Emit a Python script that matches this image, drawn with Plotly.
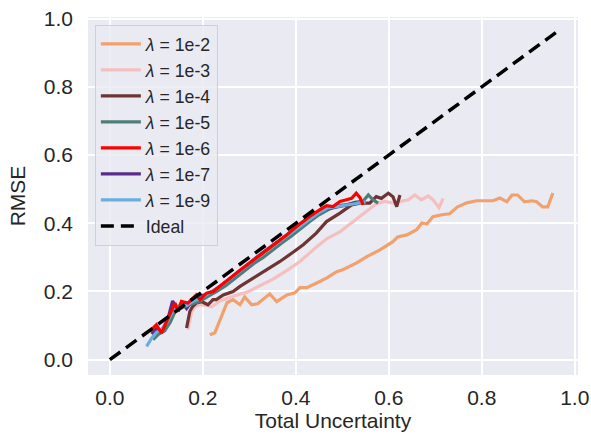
import plotly.graph_objects as go

labels = ["1e-2", "1e-3", "1e-4", "1e-5", "1e-6", "1e-7", "1e-9"]
colors = ["#F2A06C", "#F6BFBF", "#6E3434", "#4F7E78", "#FF0000", "#5A2D8A", "#6AAEDD"]

x_1e2 = [0.215,0.226,0.252,0.265,0.280,0.290,0.305,0.318,0.344,0.359,0.381,0.398,0.409,0.424,0.445,0.467,0.488,0.501,0.531,0.553,0.581,0.609,0.619,0.639,0.660,0.671,0.682,0.695,0.714,0.731,0.748,0.768,0.789,0.811,0.824,0.839,0.854,0.865,0.877,0.892,0.908,0.918,0.931,0.942,0.953]
y_1e2 = [0.073,0.079,0.167,0.176,0.161,0.184,0.161,0.164,0.193,0.170,0.190,0.196,0.211,0.211,0.225,0.240,0.258,0.264,0.284,0.302,0.322,0.346,0.360,0.366,0.381,0.401,0.398,0.419,0.425,0.428,0.448,0.460,0.466,0.466,0.466,0.474,0.463,0.483,0.483,0.463,0.466,0.463,0.448,0.448,0.489]

x_1e3 = [0.168,0.176,0.183,0.194,0.210,0.219,0.237,0.265,0.295,0.323,0.351,0.381,0.409,0.444,0.467,0.495,0.523,0.552,0.573,0.591,0.610,0.624,0.642,0.656,0.670,0.685,0.695,0.708,0.717]
y_1e3 = [0.088,0.141,0.155,0.161,0.158,0.155,0.172,0.186,0.198,0.216,0.236,0.262,0.288,0.330,0.355,0.375,0.405,0.437,0.457,0.464,0.459,0.464,0.469,0.483,0.469,0.480,0.469,0.446,0.473]

x_1e4 = [0.165,0.172,0.178,0.186,0.198,0.211,0.222,0.229,0.244,0.265,0.280,0.308,0.337,0.366,0.394,0.416,0.444,0.466,0.495,0.520,0.538,0.559,0.573,0.584,0.599,0.609,0.617,0.624]
y_1e4 = [0.093,0.141,0.156,0.166,0.170,0.161,0.176,0.176,0.190,0.200,0.215,0.239,0.264,0.288,0.315,0.337,0.371,0.405,0.430,0.454,0.459,0.459,0.478,0.473,0.488,0.478,0.449,0.483]

x_1e5 = [0.093,0.105,0.118,0.130,0.140,0.152,0.165,0.180,0.195,0.210,0.230,0.250,0.270,0.290,0.310,0.330,0.350,0.370,0.390,0.410,0.430,0.450,0.470,0.490,0.510,0.530,0.545,0.556,0.566,0.577]
y_1e5 = [0.059,0.075,0.085,0.110,0.140,0.150,0.160,0.165,0.172,0.185,0.200,0.218,0.240,0.262,0.282,0.300,0.322,0.342,0.362,0.385,0.405,0.425,0.440,0.452,0.455,0.462,0.465,0.483,0.469,0.459]

x_1e6 = [0.086,0.100,0.111,0.125,0.140,0.147,0.154,0.168,0.186,0.194,0.208,0.222,0.237,0.258,0.280,0.300,0.323,0.338,0.358,0.381,0.401,0.415,0.430,0.452,0.466,0.480,0.495,0.509,0.520,0.530,0.538,0.545]
y_1e6 = [0.083,0.102,0.078,0.122,0.166,0.141,0.171,0.166,0.190,0.176,0.195,0.200,0.215,0.238,0.262,0.283,0.307,0.322,0.343,0.366,0.390,0.405,0.420,0.440,0.452,0.449,0.464,0.469,0.473,0.488,0.475,0.454]

x_1e7 = [0.090,0.100,0.112,0.125,0.135,0.145,0.155,0.165,0.178,0.190,0.205,0.220,0.240,0.260,0.280,0.300,0.320,0.340,0.360,0.380,0.400,0.420,0.440,0.460,0.480,0.500,0.515,0.530]
y_1e7 = [0.075,0.090,0.085,0.120,0.172,0.150,0.168,0.150,0.175,0.185,0.190,0.200,0.218,0.240,0.262,0.285,0.305,0.325,0.345,0.365,0.388,0.410,0.430,0.440,0.445,0.452,0.455,0.462]

x_1e9 = [0.079,0.090,0.100,0.112,0.125,0.138,0.150,0.165,0.180,0.195,0.210,0.230,0.250,0.270,0.290,0.310,0.330,0.350,0.370,0.390,0.410,0.430,0.450,0.470,0.490,0.510,0.530,0.550]
y_1e9 = [0.039,0.063,0.080,0.090,0.115,0.150,0.160,0.158,0.172,0.180,0.192,0.208,0.228,0.250,0.270,0.292,0.312,0.333,0.352,0.372,0.392,0.412,0.432,0.445,0.450,0.455,0.458,0.462]

ideal_x = [0.0, 0.96]
ideal_y = [0.0, 0.96]

tick_vals = [0.0, 0.2, 0.4, 0.6, 0.8, 1.0]
tick_text = ["0.0", "0.2", "0.4", "0.6", "0.8", "1.0"]

series_x = [x_1e2, x_1e3, x_1e4, x_1e5, x_1e6, x_1e7, x_1e9]
series_y = [y_1e2, y_1e3, y_1e4, y_1e5, y_1e6, y_1e7, y_1e9]

# draw order: red on top of the other curves
draw_order = [0, 1, 2, 3, 5, 6, 4]

fig = go.Figure()
for i in draw_order:
    fig.add_trace(go.Scatter(
        x=series_x[i], y=series_y[i], mode="lines",
        name="<i>λ</i> = " + labels[i],
        line=dict(color=colors[i], width=3.2),
        legendrank=i + 1, legendgroup=labels[i],
    ))
fig.add_trace(go.Scatter(
    x=ideal_x, y=ideal_y, mode="lines", name="Ideal",
    line=dict(color="black", width=3.5, dash="13px,7px"),
    legendrank=8, legendgroup="ideal",
))

font_family = "Liberation Sans, Arial, sans-serif"
fig.update_layout(
    width=591, height=440,
    margin=dict(l=88, r=13, t=17, b=65, autoexpand=False),
    paper_bgcolor="white",
    plot_bgcolor="#EAEAF2",
    font=dict(family=font_family, size=21, color="#262626"),
    showlegend=True,
    legend=dict(
        x=0.014, y=0.978, xanchor="left", yanchor="top",
        bgcolor="rgba(234,234,242,0.8)",
        bordercolor="#CFCFD6", borderwidth=1,
        font=dict(size=17.7, color="#262626"),
        traceorder="grouped", tracegroupgap=0,
        itemwidth=40,
    ),
)
fig.update_xaxes(
    range=[-0.047, 1.007], tickvals=tick_vals, ticktext=tick_text,
    showgrid=True, gridcolor="white", gridwidth=1.5, zeroline=False,
    showline=False, ticks="", ticklabelstandoff=8, automargin=False,
    ticklabeloverflow="allow",
    title=dict(text="Total Uncertainty", font=dict(size=21), standoff=4),
)
fig.update_yaxes(
    range=[-0.045, 1.005], tickvals=tick_vals, ticktext=tick_text,
    showgrid=True, gridcolor="white", gridwidth=1.5, zeroline=False,
    showline=False, ticks="", ticklabelstandoff=14, automargin=False,
    ticklabeloverflow="allow",
    title=dict(text="RMSE", font=dict(size=21), standoff=12),
)

fig.write_html(
    "out.html",
    config={"displayModeBar": False},
    post_script="document.body.style.margin='0';document.body.style.overflow='hidden';",
)
